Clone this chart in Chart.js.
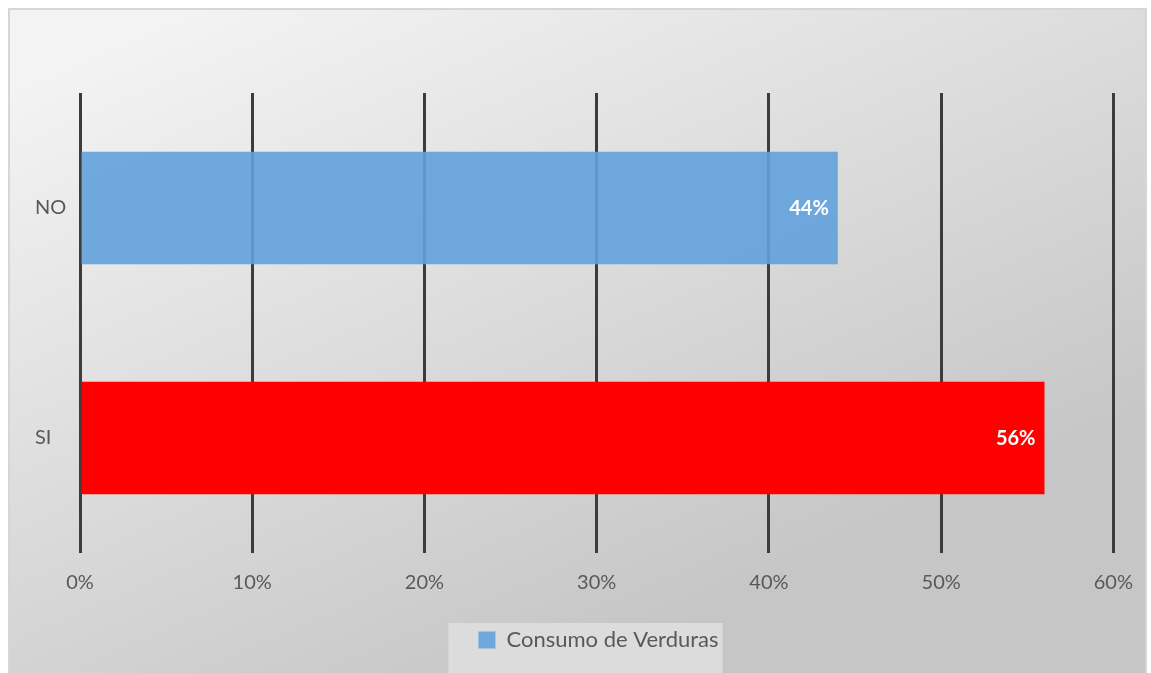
<!DOCTYPE html>
<html>
<head>
<meta charset="utf-8">
<script src="https://cdn.jsdelivr.net/npm/chart.js@4/dist/chart.umd.min.js"></script>
<style>
  html, body { margin: 0; padding: 0; background: #fff; }
  #wrap { width: 1151px; height: 673px; position: relative; }
</style>
</head>
<body>
<div id="wrap"><canvas id="chart"></canvas></div>
<script>
const categories = ["NO", "SI"];
const values = [44, 56];
const barColors = ["rgba(98,161,219,0.9)", "#ff0000"];
const seriesName = "Consumo de Verduras";
const xTicks = [0, 10, 20, 30, 40, 50, 60];

// background panel, border and the legend's own box
const panelBg = {
  id: 'panelBg',
  afterLayout(chart) {
    // legend sits a bit right of the plot centre in the original
    chart.legend.left += 24;
    chart.legend.right += 24;
  },
  beforeDraw(chart) {
    const ctx = chart.ctx;
    ctx.save();
    ctx.fillStyle = '#ffffff';
    ctx.fillRect(0, 0, chart.width, chart.height);
    const g = ctx.createLinearGradient(200, 9, 500, 700);
    g.addColorStop(0, '#f3f3f3');
    g.addColorStop(1, '#c6c6c6');
    ctx.fillStyle = g;
    ctx.fillRect(9, 9, 1137, chart.height);
    ctx.strokeStyle = '#d6d6d6';
    ctx.lineWidth = 2;
    ctx.strokeRect(9, 9, 1137, chart.height + 10);

    const hb = chart.legend.legendHitBoxes[0];
    if (hb) {
      ctx.fillStyle = '#dcdcdc';
      ctx.fillRect(hb.left - 30, hb.top - 6, hb.width + 34, chart.height);
    }
    ctx.restore();
  }
};

// value labels at the end of each bar
const barLabels = {
  id: 'barLabels',
  afterDatasetsDraw(chart) {
    const ctx = chart.ctx;
    const meta = chart.getDatasetMeta(0);
    ctx.save();
    ctx.font = 'bold 20px Lato';
    ctx.fillStyle = '#ffffff';
    ctx.textAlign = 'right';
    ctx.textBaseline = 'middle';
    meta.data.forEach((el, i) => {
      ctx.fillText(values[i] + '%', el.x - 9, el.y + 1);
    });
    ctx.restore();
  }
};

new Chart(document.getElementById("chart").getContext("2d"), {
  type: 'bar',
  data: {
    labels: categories,
    datasets: [{
      label: seriesName,
      data: values,
      backgroundColor: barColors,
      borderWidth: 0,
      barPercentage: 0.49,
      categoryPercentage: 1
    }]
  },
  options: {
    indexAxis: 'y',
    responsive: true,
    maintainAspectRatio: false,
    animation: false,
    layout: { padding: { left: 35, right: 37, top: 93, bottom: 12 } },
    scales: {
      x: {
        min: 0,
        max: 60,
        afterBuildTicks(axis) { axis.ticks = xTicks.map(v => ({ value: v })); },
        afterFit(axis) { axis.height = 70; },
        grid: { color: '#3c3c3c', lineWidth: 3, drawTicks: false },
        border: { display: false },
        ticks: {
          padding: 18,
          color: '#595959',
          font: { family: 'Lato', size: 20 },
          callback: v => v + '%'
        }
      },
      y: {
        afterFit(axis) { axis.width = 45; },
        grid: { display: false },
        border: { display: false },
        ticks: {
          crossAlign: 'far',
          padding: 0,
          color: '#595959',
          font: { family: 'Lato', size: 20 }
        }
      }
    },
    plugins: {
      legend: {
        position: 'bottom',
        labels: {
          boxWidth: 17,
          boxHeight: 17,
          padding: 6,
          color: '#595959',
          font: { family: 'Lato', size: 22 }
        }
      },
      tooltip: { enabled: false }
    }
  },
  plugins: [panelBg, barLabels]
});
</script>
</body>
</html>
